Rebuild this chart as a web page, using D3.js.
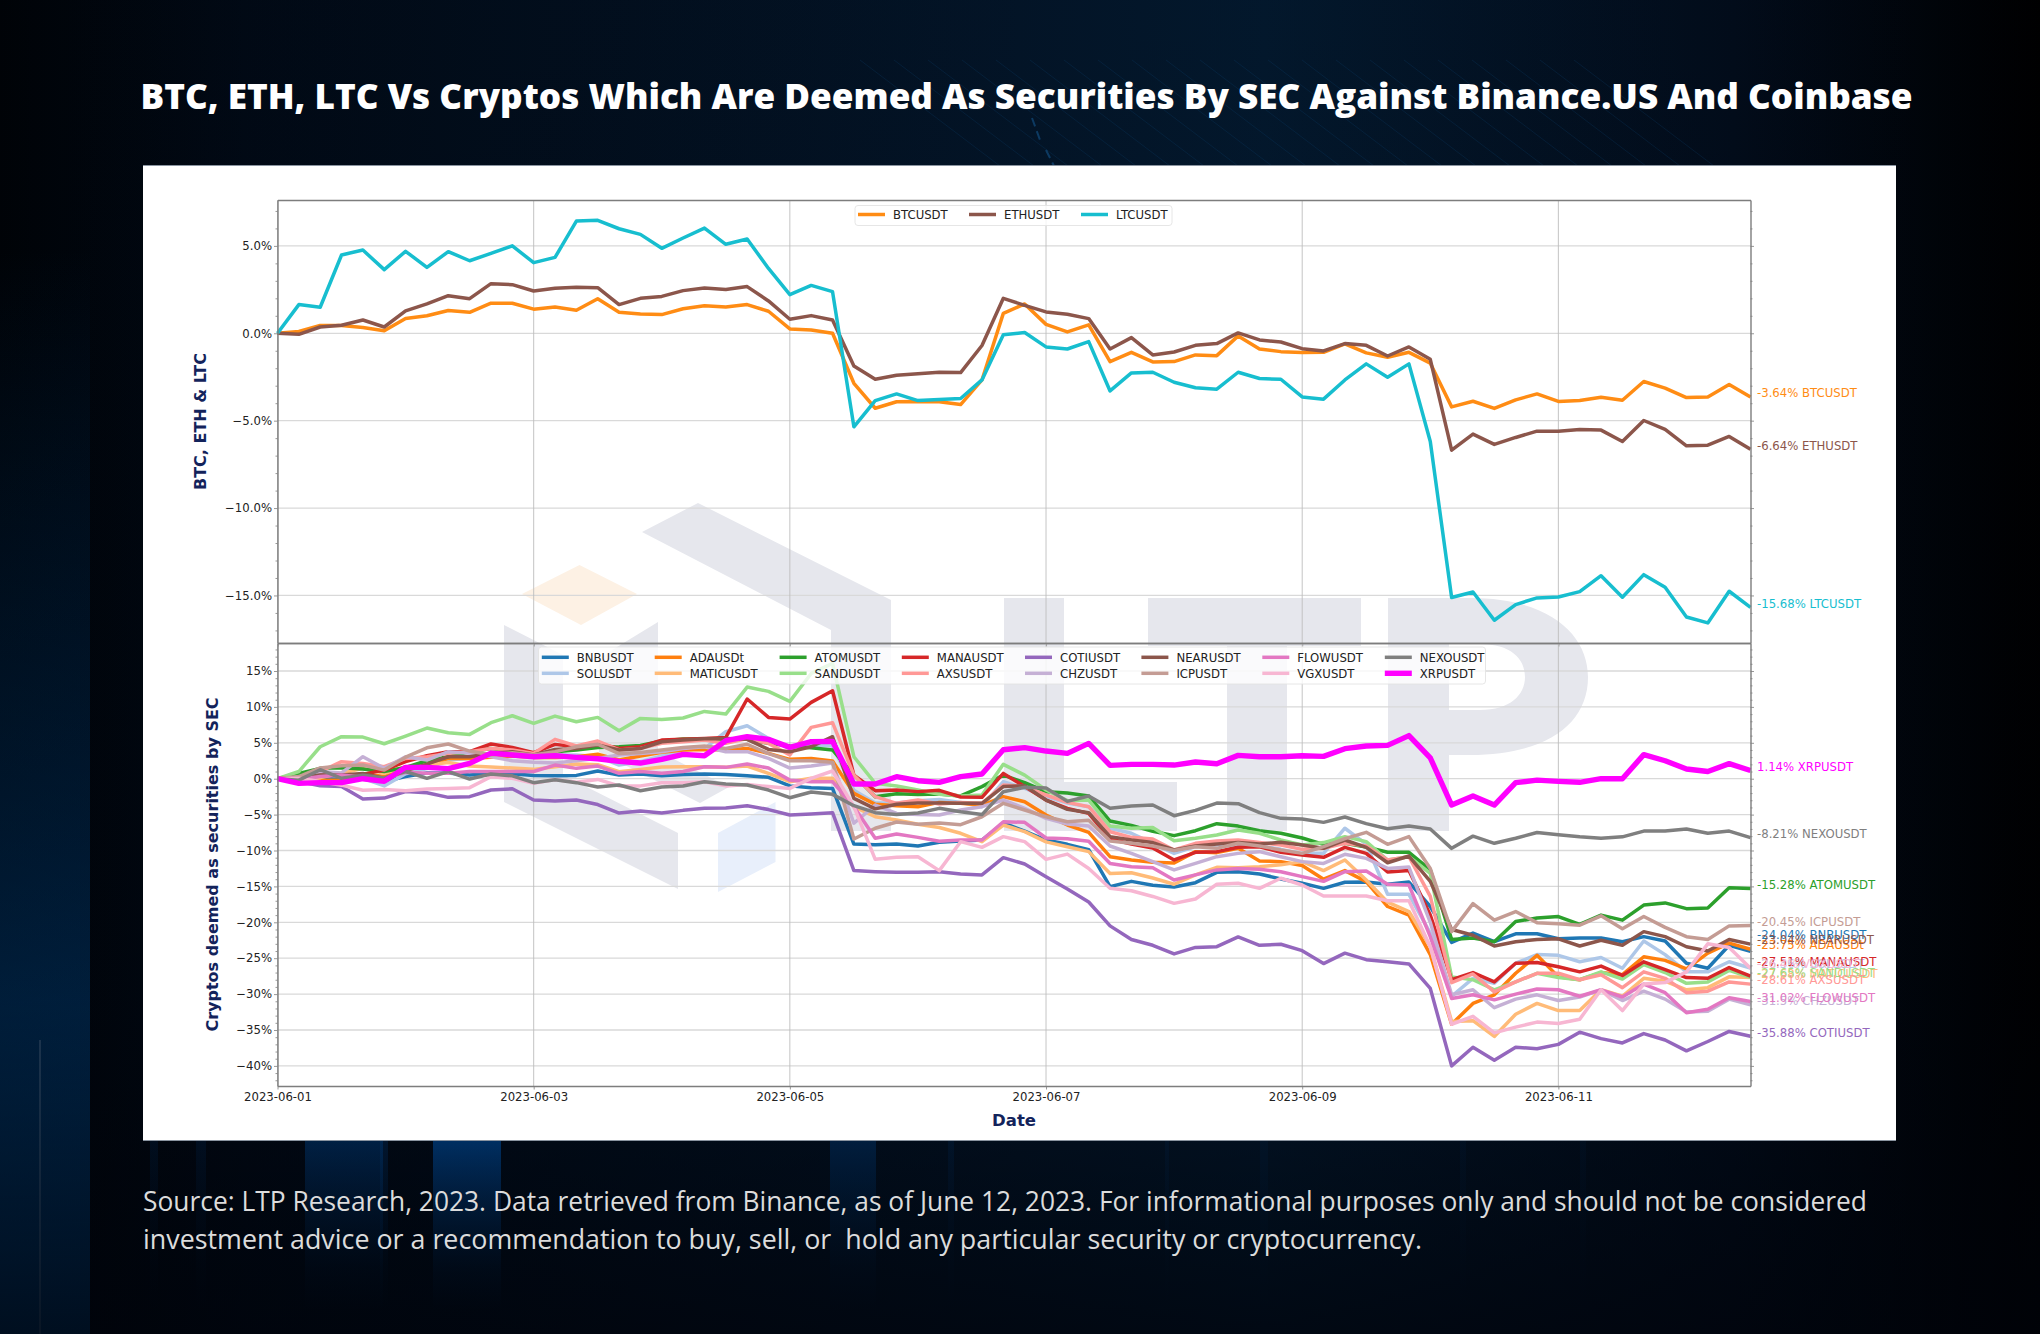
<!DOCTYPE html>
<html>
<head>
<meta charset="utf-8">
<script src="https://cdn.jsdelivr.net/npm/d3@7/dist/d3.min.js"></script>
<style>
html,body{margin:0;padding:0;background:#010812;}
svg{display:block;}
text{font-family:"DejaVu Sans",sans-serif;}
</style>
</head>
<body>
<svg id="chart" width="2040" height="1334"></svg>
<script>
// ---------- text ----------
const titleText = "BTC, ETH, LTC Vs Cryptos Which Are Deemed As Securities By SEC Against Binance.US And Coinbase";
const footerLines = [
  "Source: LTP Research, 2023. Data retrieved from Binance, as of June 12, 2023. For informational purposes only and should not be considered",
  "investment advice or a recommendation to buy, sell, or  hold any particular security or cryptocurrency."
];
const xTickLabels = ["2023-06-01","2023-06-03","2023-06-05","2023-06-07","2023-06-09","2023-06-11"];
const topYTicks = [5,0,-5,-10,-15];
const bottomYTicks = [15,10,5,0,-5,-10,-15,-20,-25,-30,-35,-40];

// ---------- data: % change, one reading every 4 hours from 2023-06-01 00:00 ----------
const BTCUSDT = [0,0.1,0.45,0.45,0.33,0.15,0.85,1.0,1.3,1.2,1.72,1.72,1.38,1.5,1.32,1.98,1.2,1.1,1.07,1.4,1.58,1.5,1.64,1.26,0.25,0.19,0,
 -2.86,-4.29,-3.92,-3.9,-3.92,-4.08,-2.67,1.14,1.68,0.51,0.08,0.48,-1.62,-1.09,-1.64,-1.62,-1.24,-1.28,-0.15,-0.9,-1.05,-1.1,-1.09,-0.61,-1.12,-1.37,-1.09,-1.71,
 -4.21,-3.89,-4.3,-3.81,-3.47,-3.9,-3.85,-3.66,-3.83,-2.76,-3.14,-3.68,-3.64,-2.93,-3.64];
const ETHUSDT = [0,-0.06,0.36,0.46,0.76,0.36,1.28,1.68,2.15,1.98,2.84,2.78,2.42,2.57,2.63,2.61,1.64,2.0,2.11,2.44,2.59,2.51,2.67,1.85,0.8,1.01,0.76,
 -1.87,-2.63,-2.4,-2.32,-2.23,-2.25,-0.7,2.0,1.6,1.22,1.09,0.84,-0.9,-0.25,-1.24,-1.07,-0.69,-0.59,0.02,-0.38,-0.5,-0.88,-1.01,-0.59,-0.69,-1.3,-0.78,-1.49,
 -6.69,-5.77,-6.36,-5.96,-5.6,-5.6,-5.5,-5.54,-6.19,-4.99,-5.5,-6.44,-6.4,-5.9,-6.64];
const LTCUSDT = [0,1.64,1.49,4.48,4.76,3.64,4.69,3.77,4.67,4.15,4.57,5.0,4.04,4.34,6.42,6.46,5.98,5.66,4.86,5.45,6.02,5.09,5.39,3.71,2.21,2.74,2.38,
 -5.35,-3.85,-3.47,-3.85,-3.79,-3.73,-2.67,-0.08,0.04,-0.78,-0.9,-0.48,-3.3,-2.27,-2.23,-2.8,-3.12,-3.2,-2.23,-2.59,-2.63,-3.64,-3.77,-2.67,-1.75,-2.51,-1.75,-6.19,
 -15.12,-14.8,-16.42,-15.52,-15.14,-15.09,-14.78,-13.87,-15.1,-13.81,-14.53,-16.23,-16.57,-14.76,-15.68];

const BNBUSDT = [0,0.05,0.1,-0.1,0.2,-0.4,0.3,0.8,0.8,0.5,0.74,0.7,0.46,0.42,0.46,1.07,0.5,0.65,0.42,0.6,0.65,0.6,0.42,0.2,-1.0,-1.25,-1.35,
 -9.1,-9.2,-9.1,-9.37,-8.86,-8.68,-8.54,-6.17,-7.29,-8.54,-9.14,-9.88,-15.03,-14.3,-14.85,-15.08,-14.48,-13.04,-12.95,-13.27,-13.97,-14.57,-15.27,-14.43,-14.38,-14.7,-14.4,-17.8,
 -22.8,-21.5,-22.7,-21.6,-21.6,-22.3,-22.2,-22.2,-22.7,-22,-22.6,-25.7,-26.4,-23.2,-24.04];
const SOLUSDT = [0,0.2,0.75,0.5,0.05,-1,0.7,1.4,2.6,2.8,3.3,3.5,3.0,3.3,3.3,3.06,1.9,2.37,3.16,4,4.2,6.54,7.38,5.6,4.2,4.7,4.55,
 -1.6,-3.4,-3.4,-3.06,-2.9,-3.3,-3.9,-0.4,-1.35,-2.5,-3.4,-3.9,-6.9,-7.6,-9,-10.4,-9.47,-9.2,-9.47,-9.37,-9.84,-10.4,-10.4,-6.9,-9.1,-16.1,-16.1,-21.5,
 -30.3,-27.8,-28.5,-25.7,-24.5,-24.6,-25.5,-24.9,-26.4,-22.6,-24.5,-26.9,-26.9,-25.5,-26.36];
const ADAUSDt = [0,-0.1,-0.2,-0.2,0.65,0.3,1.44,1.86,2.83,2.83,2.97,3.16,2.97,2.97,3.06,3.4,2.6,3.16,3.67,4,4.08,4,4.22,3.53,2.7,2.83,2.46,
 -2.04,-3.57,-3.76,-3.9,-3.3,-3.43,-3.71,-2.5,-3.2,-5.06,-6.45,-7.47,-10.86,-11.32,-11.65,-11.74,-10.16,-10.3,-9.7,-11.46,-11.55,-12.1,-14,-12.8,-14.34,-17.8,-19,-24.5,
 -34.2,-31.3,-30.1,-27.1,-24.6,-27.6,-28,-27,-27.3,-24.8,-25.3,-26.5,-24.3,-22.9,-23.75];
const MATICUSDT = [0,-0.1,0.15,0.75,1.44,0.75,1.67,1.9,2.27,1.76,1.62,1.48,1.3,1.67,2.04,1.95,0.97,1.3,1.62,1.67,1.67,1.58,1.76,0.74,-0.42,0.05,0.05,
 -3.9,-5.3,-5.75,-6.35,-6.8,-7.6,-8.77,-6.45,-7.38,-8.8,-9.47,-10.16,-13.2,-13.1,-13.83,-14.7,-13.4,-12.34,-12.4,-12.25,-12,-11.55,-12.8,-11.32,-14.1,-17.2,-18.5,-23.4,
 -33.8,-33.7,-35.9,-32.8,-31.3,-32.3,-32.3,-29.4,-30.3,-27.8,-28.2,-29.4,-29.1,-27.6,-27.68];
const ATOMUSDT = [0,0.74,1.44,1.53,1.35,1.0,1.58,2.5,3.06,3.76,4.2,3.85,3.43,3.76,4.0,4.36,4.45,4.64,5.24,5.52,5.52,5.57,5.48,4.92,4.55,4.32,4.0,
 0.5,-2.5,-2.1,-2.2,-2.13,-2.4,-1.1,0.5,-0.55,-1.81,-2.0,-2.41,-5.9,-6.5,-7.33,-7.93,-7.24,-6.26,-6.6,-7.24,-7.6,-8.26,-9.14,-9.0,-9.5,-10.25,-10.25,-12.7,
 -22.4,-22.2,-22.7,-19.9,-19.4,-19.2,-20.3,-19,-19.7,-17.6,-17.3,-18.1,-18,-15.2,-15.28];
const SANDUSDT = [0,1,4.45,5.85,5.8,4.87,5.94,7.05,6.4,6.17,7.8,8.77,7.7,8.72,7.93,8.54,6.68,8.4,8.26,8.45,9.37,9,12.76,12.16,10.77,14.66,16.06,
 3.06,-0.65,-1.02,-1.58,-2.18,-2.4,-2.27,2,0.5,-1.58,-3.06,-2.97,-6.6,-6.9,-6.8,-8.63,-8.3,-7.84,-7.15,-7.6,-8.54,-9.23,-8.9,-8.07,-8.77,-11.32,-10.86,-13.2,
 -27.6,-28,-29.4,-28.3,-27.1,-27.7,-28,-26.9,-27.9,-25.9,-27,-28.5,-28.3,-26.7,-27.65];
const MANAUSDT = [0,0.2,0.5,0.5,0.6,1.2,2.37,3.2,3.76,3.76,4.83,4.36,3.62,4.78,4.45,4.92,4.22,4.45,5.38,5.48,5.6,5.75,11.1,8.54,8.3,10.63,12.25,
 0.5,-1.67,-1.58,-1.8,-1.62,-2.55,-2.6,0.74,-1.1,-2.97,-4.13,-4.83,-8.4,-9.1,-9.65,-11.32,-10.25,-10.16,-9.56,-9.47,-10.25,-10.63,-10.95,-9.56,-10.4,-13,-12.8,-19,
 -28,-27,-28.3,-25.7,-25.6,-26.2,-26.9,-26.1,-27.4,-25.5,-26.6,-27.7,-27.8,-26.3,-27.51];
const AXSUSDT = [0,0.2,1,2.37,2.13,1.67,2.83,3.06,3.53,3.76,4.2,4,3.53,5.48,4.55,5.24,4,4.22,4.92,5.15,5.38,4.92,5.6,4.92,3.3,7.15,7.8,
 0.5,-2.5,-3.43,-2.97,-3.53,-3.3,-3.43,-0.88,-1.1,-2.27,-3.3,-3.9,-7.38,-8.17,-8.4,-9.93,-9,-8.68,-8.54,-8.9,-9.23,-9.84,-9.7,-9,-9.37,-11.32,-10.86,-16.4,
 -28.4,-27.2,-29.7,-28.3,-27.1,-27.1,-28,-27.3,-29.1,-26.9,-27.8,-29.8,-29.6,-28.3,-28.61];
const COTIUSDT = [0,-0.4,-0.97,-1.1,-2.83,-2.7,-1.8,-1.95,-2.6,-2.5,-1.58,-1.4,-2.97,-3.1,-2.97,-3.6,-4.78,-4.5,-4.78,-4.41,-4.13,-4.08,-3.76,-4.3,-5.06,-4.92,-4.73,
 -12.8,-12.95,-13.04,-13.04,-12.95,-13.27,-13.4,-11,-11.88,-13.64,-15.36,-17.17,-20.5,-22.4,-23.2,-24.4,-23.5,-23.4,-22.04,-23.2,-23.06,-23.95,-25.75,-24.3,-25.2,-25.5,-25.8,-29.2,
 -40,-37.4,-39.2,-37.4,-37.6,-37,-35.3,-36.2,-36.8,-35.5,-36.4,-37.9,-36.6,-35.2,-35.88];
const CHZUSDT = [0,0.05,1,0.8,3.06,1.44,3.06,2.6,3.76,3.53,3.06,2.5,2.3,2.2,2.5,2.83,3.3,3.5,3.76,4.22,4.45,3.76,3.76,2.83,1.48,1.76,2.2,
 -6.2,-3.67,-4.83,-5,-5.06,-4.36,-3.9,-2.97,-4.13,-5.52,-6.3,-6.6,-9.37,-10.4,-11.55,-12.7,-11.8,-10.86,-10.4,-10.16,-10.86,-11.55,-11.8,-10.53,-11.1,-12.5,-12.3,-20,
 -30.1,-29.4,-31.9,-30.7,-30.1,-30.9,-30.4,-29.4,-30.9,-29.6,-30.7,-32.5,-32.4,-30.7,-31.5];
const NEARUSDT = [0,0.15,0.5,0.5,0.74,0.05,1.1,2.04,3.06,3.06,3.53,3.76,3.3,4.08,4.2,4.7,4,4.2,5.15,5.4,5.57,5.6,5.48,4.08,3.76,4.45,5.85,
 -2.74,-4.2,-3.57,-3.39,-3.39,-3.43,-3.43,-1.1,-0.97,-2.97,-4.27,-4.73,-8.07,-8.54,-8.9,-9.93,-9.37,-9.1,-8.9,-9.1,-8.86,-9.23,-9.7,-8.54,-9.56,-11.7,-10.77,-14.3,
 -21,-21.8,-23.3,-22.7,-22.4,-22.3,-23.3,-22.5,-23.2,-21.3,-22,-23.4,-24,-22.4,-23.04];
const ICPUSDT = [0,0.3,1.5,1.8,1.9,1.2,3.0,4.3,4.83,3.85,3.3,3.6,3.3,3.76,4.45,4.8,3.5,3.66,4.0,4.36,4.55,4.2,4.8,3.5,2.5,2.5,2.3,
 -8.4,-6.9,-6.03,-6.35,-6.17,-6.4,-5.3,-3.43,-4.36,-5.3,-6.0,-5.8,-8.67,-9,-9.37,-10,-9.47,-9.7,-9,-9.37,-9.93,-10.4,-9.47,-8.35,-7.47,-9.14,-8.07,-12.5,
 -21.3,-17.4,-19.7,-18.5,-20.05,-20.2,-20.4,-19.1,-20.9,-19.2,-20.7,-22,-22.4,-20.5,-20.45];
const FLOWUSDT = [0,-0.1,0.3,0.5,0.2,0.05,0.9,0.75,0.75,1,1,1,1,1.9,1.44,1.76,0.75,1,0.75,1,1.67,1.58,2.04,1.48,-0.2,-0.42,-0.42,
 -3.9,-8.3,-7.7,-8.17,-8.72,-8.54,-8.54,-6,-6.08,-8.26,-8.35,-8.72,-11.8,-12.25,-12.4,-14.1,-13.4,-12.7,-12.5,-12.6,-12.95,-13.64,-14.3,-12.95,-12.85,-14.7,-14.8,-22,
 -30.6,-30.1,-30.8,-30,-29.3,-29.4,-30.3,-29.4,-30.4,-28.6,-29.8,-32.6,-32.1,-30.5,-31.02];
const VGXUSDT = [0,0.05,-0.4,-0.9,-1.6,-1.5,-1.67,-1.44,-1.35,-1.25,0.28,0.05,-0.65,-0.1,-0.5,-0.1,-1,-1,-0.55,-0.55,-0.42,-1,-0.8,-1.1,-1.35,0.05,1.07,
 -3.9,-11.23,-10.95,-10.86,-12.8,-8.77,-9.56,-8.07,-8.77,-11.23,-10.5,-12.5,-15.27,-15.6,-16.4,-17.36,-16.75,-14.7,-14.57,-15.27,-13.87,-14.8,-16.33,-16.33,-16.33,-17,-17,-23.4,
 -34.2,-33.1,-35.4,-34.6,-33.9,-34.1,-33.5,-29.4,-32.3,-28.6,-28.4,-26.9,-23,-23.5,-26.4];
const NEXOUSDT = [0,-0.2,1.25,0.05,0.5,0.1,1.0,0.05,1.0,-0.05,0.65,0.4,-0.55,-0.15,-0.55,-1.16,-0.88,-1.67,-1.16,-1.02,-0.42,-0.74,-0.88,-1.58,-2.65,-1.86,-2.18,
 -3.76,-4.73,-5.0,-4.78,-4.13,-4.6,-5.0,-1.81,-1.2,-1.3,-3.16,-2.41,-4.13,-3.8,-3.67,-5.15,-4.41,-3.39,-3.48,-4.73,-5.52,-5.61,-6.08,-5.34,-6.26,-6.96,-6.6,-7.0,
 -9.7,-8.0,-9.0,-8.3,-7.5,-7.8,-8.1,-8.3,-8.1,-7.3,-7.3,-7.0,-7.6,-7.3,-8.21];
const XRPUSDT = [0,-0.65,-0.55,-0.55,0,-0.37,1.58,1.58,1.4,2.13,3.57,3.3,3.06,3.2,2.97,2.78,2.41,2.18,2.69,3.39,3.2,5.29,5.85,5.48,4.36,5.15,5.2,
 -0.74,-0.74,0.28,-0.28,-0.51,0.28,0.65,4.04,4.32,3.85,3.53,4.92,1.86,2.0,2.0,1.9,2.32,2.09,3.25,3.06,3.06,3.2,3.11,4.18,4.55,4.64,6.0,2.9,
 -3.67,-2.4,-3.67,-0.55,-0.2,-0.37,-0.5,0,0,3.35,2.5,1.35,1.0,2.1,1.14];

// series tables, in legend order
const topNames = ["BTCUSDT","ETHUSDT","LTCUSDT"];
const topValues = [BTCUSDT,ETHUSDT,LTCUSDT];
const topColors = ["#ff8c14","#8c564b","#17becf"];

const bottomNames = ["BNBUSDT","SOLUSDT","ADAUSDt","MATICUSDT","ATOMUSDT","SANDUSDT","MANAUSDT","AXSUSDT","COTIUSDT","CHZUSDT","NEARUSDT","ICPUSDT","FLOWUSDT","VGXUSDT","NEXOUSDT","XRPUSDT"];
const bottomValues = [BNBUSDT,SOLUSDT,ADAUSDt,MATICUSDT,ATOMUSDT,SANDUSDT,MANAUSDT,AXSUSDT,COTIUSDT,CHZUSDT,NEARUSDT,ICPUSDT,FLOWUSDT,VGXUSDT,NEXOUSDT,XRPUSDT];
const bottomColors = ["#1f77b4","#aec7e8","#ff7f0e","#ffbb78","#2ca02c","#98df8a","#d62728","#ff9896","#9467bd","#c5b0d5","#8c564b","#c49c94","#e377c2","#f7b6d2","#7f7f7f","#ff00ff"];
// end labels that were pushed away from their line end (axis value the label sits at)
const labelShift = {BNBUSDT:-22.3, MANAUSDT:-26.05};

// ---------- layout ----------
const W = 2040, H = 1334;
const AX = {left:277.5, right:1750.5};
const P1 = {top:200, bottom:643};
const P2 = {top:643, bottom:1086};
const NAVY = "#13235b";
const svg = d3.select("#chart");
const defs = svg.append("defs");

// ---------- background ----------
const hg = defs.append("linearGradient").attr("id","bgH");
[[0,"#000307"],[0.12,"#010a16"],[0.5,"#03162a"],[0.62,"#031a30"],[0.85,"#020d1c"],[0.97,"#000205"],[1,"#000000"]]
  .forEach(s=>hg.append("stop").attr("offset",s[0]).attr("stop-color",s[1]));
svg.append("rect").attr("width",W).attr("height",H).attr("fill","url(#bgH)");
const vg = defs.append("linearGradient").attr("id","bgV").attr("x2",0).attr("y2",1);
[[0,0.1],[0.75,0.2],[0.9,0.55],[1,0.75]].forEach(s=>vg.append("stop").attr("offset",s[0]).attr("stop-color","#00030a").attr("stop-opacity",s[1]));

const fade = defs.append("linearGradient").attr("id","fadeDown").attr("gradientUnits","userSpaceOnUse").attr("x1",0).attr("x2",0).attr("y1",1140).attr("y2",1310);
[[0,1],[0.35,0.62],[0.75,0.16],[1,0]].forEach(s=>fade.append("stop").attr("offset",s[0]).attr("stop-color","#0052a8").attr("stop-opacity",s[1]));
const edge = defs.append("linearGradient").attr("id","edgeUp").attr("gradientUnits","userSpaceOnUse").attr("x1",0).attr("x2",0).attr("y1",250).attr("y2",1334);
[[0,0],[0.5,0.4],[0.8,0.7],[1,0.85]].forEach(s=>edge.append("stop").attr("offset",s[0]).attr("stop-color","#003a70").attr("stop-opacity",s[1]));
// vertical light streaks
const streaks = [[305,78,0.62],[433,68,1],[830,46,0.5],[380,8,0.35],[196,10,0.2],[150,8,0.2],[948,6,0.2],[1165,4,0.15],[1260,8,0.12],[1460,6,0.1],[1580,6,0.1]];
streaks.forEach(s=>svg.append("rect").attr("x",s[0]).attr("y",1140).attr("width",s[1]).attr("height",190).attr("fill","url(#fadeDown)").attr("opacity",s[2]));
svg.append("rect").attr("x",0).attr("y",250).attr("width",90).attr("height",1084).attr("fill","url(#edgeUp)");
svg.append("rect").attr("x",39).attr("y",1040).attr("width",2).attr("height",294).attr("fill","#6d8299").attr("opacity",0.35);
// faint diagonal hatching, top centre
const hatch = svg.append("g").attr("stroke","#0e4c80").attr("stroke-width",1).attr("opacity",0.24);
d3.range(0,22).forEach(i=>{
  hatch.append("line").attr("x1",860+i*34).attr("y1",60).attr("x2",1000+i*34).attr("y2",166);
});
svg.append("path").attr("d","M1032 118 L1040 140 M1046 150 L1056 170").attr("stroke","#1a6bb0").attr("stroke-width",2).attr("stroke-dasharray","9 5").attr("fill","none").attr("opacity",.5);
svg.append("rect").attr("width",W).attr("height",H).attr("fill","url(#bgV)");

// title & footer
svg.append("text").attr("x",140.5).attr("y",109).attr("fill","#ffffff")
  .attr("textLength",1772).attr("lengthAdjust","spacingAndGlyphs")
  .style("font-family","'Open Sans',sans-serif").style("font-weight",800).style("font-size","35px").text(titleText);
const footerWidths = [1724,1279];
footerLines.forEach((t,i)=>{
  svg.append("text").attr("x",143).attr("y",1211+i*37.5).attr("fill","#dcdcdc")
    .attr("textLength",footerWidths[i]).attr("lengthAdjust","spacingAndGlyphs")
    .style("white-space","pre")
    .style("font-family","'Open Sans',sans-serif").style("font-size","27px").text(t);
});

// white card
svg.append("rect").attr("x",143).attr("y",166).attr("width",1753).attr("height",974).attr("fill","#ffffff");
svg.append("line").attr("x1",143).attr("x2",1896).attr("y1",165.5).attr("y2",165.5).attr("stroke","#8a94a0").attr("stroke-width",1);
svg.append("line").attr("x1",143).attr("x2",1896).attr("y1",1140.5).attr("y2",1140.5).attr("stroke","#8a94a0").attr("stroke-width",1);

// watermark (logo behind the chart)
const wm = svg.append("g");
const GREY = "#e6e7ed";
wm.append("path").attr("fill",GREY).attr("d","M642 532 L698 503 L891 600 L891 831 L831 831 L831 630 Z");
wm.append("path").attr("fill",GREY).attr("d","M504 625 L563 655 L563 775 L678 833 L678 889 L504 802 Z");
wm.append("path").attr("fill",GREY).attr("d","M658 622 L658 751 L729 787 L700 803 L599 752 L599 658 Z");
wm.append("path").attr("fill","#e8effb").attr("d","M718 833 L775.5 802 L775.5 862 L718 892 Z");
wm.append("path").attr("fill","#fdf1e4").attr("d","M522 594 L579.5 565 L637 594 L581 625 Z");
wm.append("path").attr("fill",GREY).attr("d","M1004 598 H1064 V782 H1177 V831 H1004 Z");
wm.append("path").attr("fill",GREY).attr("d","M1148 598 H1361 V646 H1287 V831 H1227 V646 H1148 Z");
wm.append("path").attr("fill",GREY).attr("fill-rule","evenodd")
  .attr("d","M1388 598 H1470 C1550 598 1588 635 1588 677 C1588 725 1545 755 1470 755 H1449 V831 H1388 Z M1449 644 V710 H1480 C1510 710 1525 695 1525 677 C1525 658 1510 644 1480 644 Z");

// ---------- scales ----------
const start = new Date(Date.UTC(2023,5,1,0,0));
const dates = BTCUSDT.map((_,i)=>d3.utcHour.offset(start,4*i));
const x = d3.scaleUtc().domain([start,dates[dates.length-1]]).range([AX.left,AX.right]);
const xTicks = xTickLabels.map(s=>new Date(s+"T00:00:00Z"));
const y1 = d3.scaleLinear().domain([-17.72,7.625]).range([P1.bottom,P1.top]);
const y2 = d3.scaleLinear().domain([-42.8,18.9]).range([P2.bottom,P2.top]);
const line = yS => d3.line().x((d,i)=>x(dates[i])).y(d=>yS(d)).curve(d3.curveLinear);

function drawPanel(P,yS,yTicks,fmt,names,values,colors,showX){
  const g = svg.append("g");
  // grid
  g.append("g").selectAll("line").data(yTicks).join("line")
    .attr("x1",AX.left).attr("x2",AX.right).attr("y1",d=>yS(d)).attr("y2",d=>yS(d))
    .attr("stroke","#d9d9d9").attr("stroke-width",1.3);
  g.append("g").selectAll("line").data(xTicks).join("line")
    .attr("x1",d=>x(d)).attr("x2",d=>x(d)).attr("y1",P.top).attr("y2",P.bottom)
    .attr("stroke","#bdbdbd").attr("stroke-width",0.9);
  // lines
  g.append("g").selectAll("path").data(values).join("path")
    .attr("fill","none").attr("stroke",(d,i)=>colors[i])
    .attr("stroke-width",(d,i)=>names[i]==="XRPUSDT"?5.4:3.5)
    .attr("stroke-linejoin","round").attr("d",line(yS));
  // axes
  const [lo,hi] = yS.domain();
  const minor = d3.range(Math.ceil(lo),Math.floor(hi)+1).filter(v=>!yTicks.includes(v));
  const styleAxis = a=>{ a.select(".domain").attr("stroke","#7d7d7d").attr("stroke-width",1.4);
    a.selectAll("line").attr("stroke","#7d7d7d").attr("stroke-width",0.8);
    a.selectAll("text").attr("fill","#222").style("font-size","11.7px").style("font-family","'DejaVu Sans',sans-serif"); };
  g.append("g").attr("transform",`translate(${AX.left},0)`).call(d3.axisLeft(yS).tickValues(yTicks).tickSizeInner(3.5).tickSizeOuter(0).tickPadding(2).tickFormat(fmt)).call(styleAxis);
  g.append("g").attr("transform",`translate(${AX.left},0)`).call(d3.axisLeft(yS).tickValues(minor).tickSizeInner(2).tickSizeOuter(0).tickFormat("")).call(styleAxis).select(".domain").remove();
  g.append("g").attr("transform",`translate(${AX.right},0)`).call(d3.axisRight(yS).tickValues(yTicks).tickSizeInner(3.5).tickSizeOuter(0).tickFormat("")).call(styleAxis);
  g.append("g").attr("transform",`translate(${AX.right},0)`).call(d3.axisRight(yS).tickValues(minor).tickSizeInner(2).tickSizeOuter(0).tickFormat("")).call(styleAxis).select(".domain").remove();
  g.append("g").attr("transform",`translate(0,${P.top})`).call(d3.axisTop(x).tickValues(xTicks).tickSize(0).tickFormat("")).call(styleAxis);
  g.append("g").attr("transform",`translate(0,${P.bottom})`).call(d3.axisBottom(x).tickValues(xTicks).tickSizeInner(3.5).tickSizeOuter(0).tickPadding(3).tickFormat(showX?d3.utcFormat("%Y-%m-%d"):"")).call(styleAxis);
  // end labels
  g.append("g").selectAll("text").data(names).join("text")
    .attr("x",1757).attr("y",(d,i)=>(labelShift[d]!==undefined?yS(labelShift[d]):yS(values[i][values[i].length-1]))-4)
    .attr("dy","0.36em").attr("fill",(d,i)=>colors[i]).style("font-size","11.7px")
    .text((d,i)=>`${values[i][values[i].length-1]}% ${d}`);
}

const fmt1 = d=>d3.format(".1f")(d).replace("-","\u2212")+"%";
const fmt2 = d=>String(d).replace("-","\u2212")+"%";
drawPanel(P1,y1,topYTicks,fmt1,topNames,topValues,topColors,false);
drawPanel(P2,y2,bottomYTicks,fmt2,bottomNames,bottomValues,bottomColors,true);

// ---------- legends ----------
function legend(box,cols,rowsY,names,colors,nRows,handleW){
  const g = svg.append("g");
  g.append("rect").attr("x",box[0]).attr("y",box[1]).attr("width",box[2]).attr("height",box[3]).attr("rx",3)
    .attr("fill","#ffffff").attr("fill-opacity",0.8).attr("stroke","#e3e3e3").attr("stroke-width",0.9);
  names.forEach((n,i)=>{
    const c = Math.floor(i/nRows), r = i%nRows;
    g.append("line").attr("x1",cols[c]).attr("x2",cols[c]+handleW).attr("y1",rowsY[r]).attr("y2",rowsY[r])
      .attr("stroke",colors[i]).attr("stroke-width",n==="XRPUSDT"?5.4:3.5);
    g.append("text").attr("x",cols[c]+handleW+8).attr("y",rowsY[r]).attr("dy","0.36em").attr("fill","#222").style("font-size","11.7px").text(n);
  });
}
legend([855,205.5,317,20],[858,969,1081],[214.5],topNames,topColors,1,27);
legend([538.5,647,947,37],[541.8,654.7,779.6,901.8,1025,1141.4,1262.3,1384.8],[657.3,673.3],bottomNames,bottomColors,2,27);

// axis titles
const axT = (xx,yy,rot,t)=>svg.append("text").attr("transform",`translate(${xx},${yy}) rotate(${rot})`)
  .attr("text-anchor","middle").attr("fill",NAVY).style("font-weight",700).style("font-size","16px").text(t);
axT(200,421.5,-90,"BTC, ETH & LTC").attr("dy","0.36em");
axT(212,864.5,-90,"Cryptos deemed as securities by SEC").attr("dy","0.36em");
axT(1014,1120.5,0,"Date").attr("dy","0.36em").style("font-size","16.5px");
</script>
</body>
</html>
